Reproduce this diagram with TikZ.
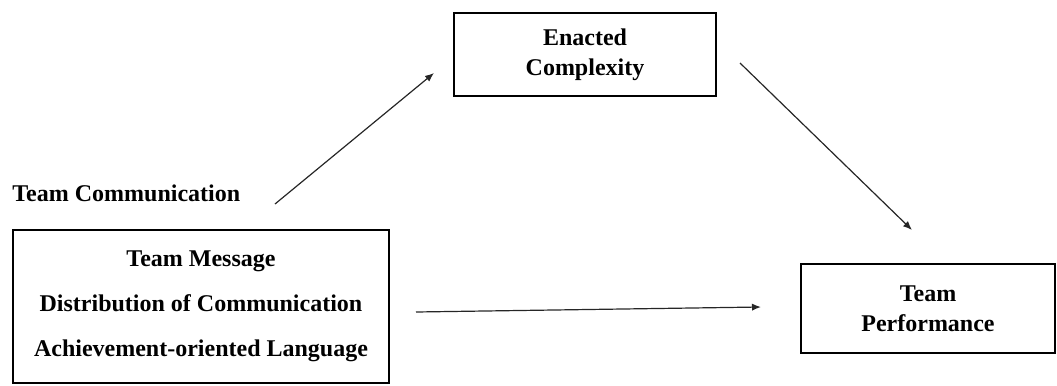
\documentclass[tikz,border=0pt]{standalone}
\usepackage{fontspec}
\setmainfont{Liberation Serif}
\usetikzlibrary{arrows.meta, positioning}
\tikzset{
    box/.style = {draw, line width = 1.3pt, align = center, inner sep = 0pt,
                  font = \bfseries\fontsize{12}{15}\selectfont},
    arr/.style = {draw = black!85, line width = 0.6pt, -{Latex[length=4.5pt, width=3.6pt]}}
}
\begin{document}
\begin{tikzpicture}[x = 0.5pt, y = -0.5pt]
    % Cornice della figura
    \useasboundingbox (0,0) rectangle (1057,386);
    % Mediatore
    \node[box, minimum width = 131pt, minimum height = 41.5pt] (enacted) at (585,54.5)
        {Enacted\\Complexity};
    % Esito
    \node[box, minimum width = 127pt, minimum height = 44.5pt] (perf) at (928,308.5)
        {Team\\Performance};
    % Predittori
    \node[box, minimum width = 188pt, minimum height = 76.5pt,
          font = \bfseries\fontsize{12}{22.5}\selectfont] (comm) at (201,306.5)
        {Team Message\\Distribution of Communication\\Achievement-oriented Language};
    \node[anchor = west, inner sep = 0pt, font = \bfseries\fontsize{12}{15}\selectfont]
        (commlabel) at (12,193) {Team Communication};
    % Estremi delle frecce
    \coordinate (a1) at (275,204);
    \coordinate (a2) at (434,73);
    \coordinate (b1) at (740,63);
    \coordinate (b2) at (912,230);
    \coordinate (c1) at (416,312);
    \coordinate (c2) at (761,307);
    % Frecce
    \draw[arr] (a1) -- (a2);
    \draw[arr] (b1) -- (b2);
    \draw[arr] (c1) -- (c2);
\end{tikzpicture}
\end{document}
